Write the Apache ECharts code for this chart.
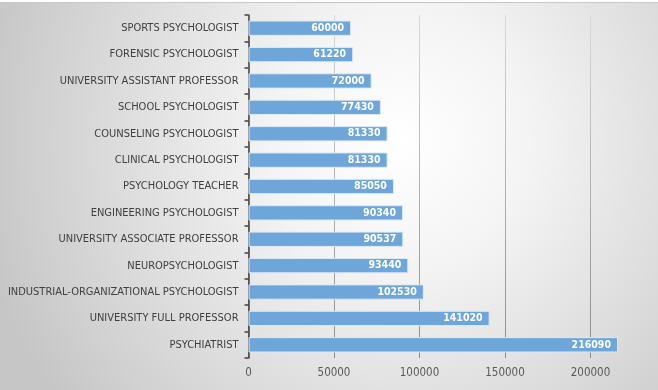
<!DOCTYPE html>
<html><head><meta charset="utf-8">
<script src="https://cdn.jsdelivr.net/npm/echarts@6/dist/echarts.min.js"></script>
<style>html,body{margin:0;padding:0;}#c{width:658px;height:390px;}</style>
</head><body><div id="c"></div>
<script>
const categories = ["PSYCHIATRIST","UNIVERSITY FULL PROFESSOR","INDUSTRIAL-ORGANIZATIONAL PSYCHOLOGIST","NEUROPSYCHOLOGIST","UNIVERSITY ASSOCIATE PROFESSOR","ENGINEERING PSYCHOLOGIST","PSYCHOLOGY TEACHER","CLINICAL PSYCHOLOGIST","COUNSELING PSYCHOLOGIST","SCHOOL PSYCHOLOGIST","UNIVERSITY ASSISTANT PROFESSOR","FORENSIC PSYCHOLOGIST","SPORTS PSYCHOLOGIST"];
const salaries = [216090,141020,102530,93440,90537,90340,85050,81330,81330,77430,72000,61220,60000];
const xTicks = [0,50000,100000,150000,200000];

const FONT = '"DejaVu Sans Condensed", "Liberation Sans Narrow", sans-serif';
const chart = echarts.init(document.getElementById('c'));
chart.setOption({
  animation:false,
  backgroundColor:{type:'radial',x:400,y:140,r:430,global:true,colorStops:[{offset:0,color:'#ffffff'},{offset:0.3,color:'#f4f4f4'},{offset:1,color:'#c6c6c6'}]},
  grid:{left:248.5,right:-18,top:15,bottom:32,containLabel:false,outerBoundsMode:'none'},
  xAxis:{type:'value',min:0,max:250000,interval:50000,
    axisLine:{show:false},axisTick:{show:false},
    splitLine:{lineStyle:{width:1,color:{type:'linear',x:0,y:15,x2:0,y2:358,global:true,colorStops:[{offset:0,color:'#d8d8d8'},{offset:1,color:'#8c8c8c'}]}}},
    axisLabel:{color:'#595959',fontFamily:FONT,fontSize:11.5,margin:9,
      formatter:v=>xTicks.indexOf(v)>=0?String(v):''}},
  yAxis:{type:'category',data:categories,
    axisLine:{show:true,lineStyle:{color:'#404040',width:1.5}},
    axisTick:{show:true,length:4,lineStyle:{color:'#404040',width:1.5}},
    axisLabel:{color:'#404040',fontFamily:FONT,fontSize:11,margin:10}},
  series:[{type:'bar',data:salaries,barCategoryGap:'42%',
    itemStyle:{color:'#6fa6da',borderColor:'#dce8f5',borderWidth:1},
    label:{show:true,position:'insideRight',distance:7,color:'#ffffff',fontWeight:'bold',
      fontFamily:FONT,fontSize:10.5}}],
  graphic:[{type:'rect',shape:{x:0,y:0,width:658,height:2},style:{fill:'#ffffff'},silent:true},
           {type:'line',shape:{x1:0,y1:2.5,x2:658,y2:2.5},style:{stroke:'#c8c8c8',lineWidth:1},silent:true}]
});
</script></body></html>
